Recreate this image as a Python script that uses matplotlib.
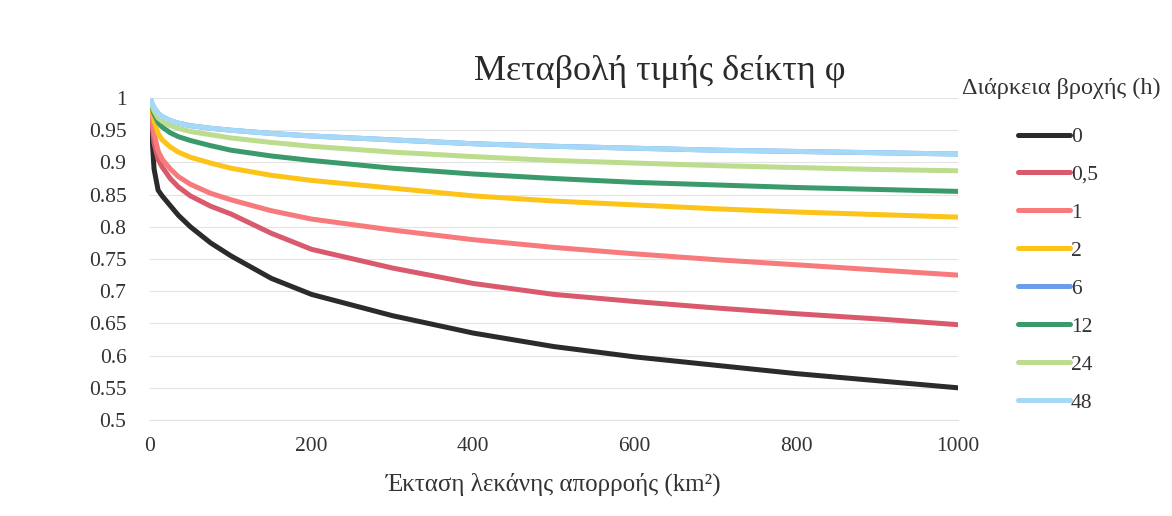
import matplotlib
matplotlib.use("Agg")
import matplotlib.pyplot as plt

plt.rcParams["font.family"] = ["Liberation Serif", "DejaVu Serif"]

# catchment area (km2)
area = [0, 2, 5, 10, 15, 25, 35, 50, 75, 100, 150, 200, 300, 400, 500, 600, 700, 800, 900, 1000]

# index phi per rain duration
durations = ["0", "0,5", "1", "2", "6", "12", "24", "48"]
phi_0 = [1.0, 0.95, 0.89, 0.857, 0.848, 0.833, 0.818, 0.80, 0.775, 0.755, 0.72, 0.695, 0.662, 0.635, 0.614, 0.598, 0.585, 0.572, 0.561, 0.550]
phi_05 = [1.0, 0.965, 0.93, 0.905, 0.893, 0.875, 0.862, 0.848, 0.832, 0.82, 0.79, 0.765, 0.736, 0.712, 0.695, 0.684, 0.674, 0.665, 0.657, 0.648]
phi_1 = [1.0, 0.975, 0.945, 0.918, 0.905, 0.89, 0.878, 0.866, 0.852, 0.842, 0.825, 0.812, 0.795, 0.78, 0.768, 0.758, 0.749, 0.741, 0.733, 0.725]
phi_2 = [1.0, 0.985, 0.965, 0.945, 0.935, 0.924, 0.916, 0.908, 0.899, 0.891, 0.88, 0.872, 0.86, 0.848, 0.84, 0.834, 0.828, 0.823, 0.819, 0.815]
phi_6 = [1.0, 0.993, 0.985, 0.976, 0.971, 0.965, 0.961, 0.957, 0.953, 0.95, 0.945, 0.941, 0.935, 0.929, 0.925, 0.922, 0.919, 0.917, 0.915, 0.913]
phi_12 = [1.0, 0.988, 0.975, 0.962, 0.955, 0.946, 0.94, 0.934, 0.926, 0.919, 0.91, 0.903, 0.891, 0.882, 0.875, 0.869, 0.865, 0.861, 0.858, 0.855]
phi_24 = [1.0, 0.99, 0.98, 0.969, 0.964, 0.957, 0.953, 0.948, 0.943, 0.938, 0.931, 0.925, 0.916, 0.909, 0.903, 0.899, 0.895, 0.892, 0.889, 0.887]
phi_48 = [1.0, 0.993, 0.985, 0.976, 0.971, 0.965, 0.961, 0.957, 0.953, 0.95, 0.945, 0.941, 0.935, 0.929, 0.925, 0.922, 0.919, 0.917, 0.915, 0.913]

series = [phi_0, phi_05, phi_1, phi_2, phi_6, phi_12, phi_24, phi_48]
colors = ["#2b2b2b", "#d95a6c", "#f77a7c", "#fcc418", "#6a9ee8", "#3a9a6c", "#bcdc8e", "#a6d8f8"]

fig = plt.figure(figsize=(11.72, 5.16), dpi=100)
ax = fig.add_axes([150 / 1172, 1 - 420 / 516, 808 / 1172, 322 / 516])

for dur, vals, col in zip(durations, series, colors):
    ax.plot(area, vals, color=col, lw=3.6, label=dur,
            solid_capstyle="round", solid_joinstyle="round")

ax.set_xlim(0, 1000)
ax.set_ylim(0.5, 1.0)
ax.set_xticks([0, 200, 400, 600, 800, 1000])
ax.set_yticks([0.5, 0.55, 0.6, 0.65, 0.7, 0.75, 0.8, 0.85, 0.9, 0.95, 1.0])
ax.set_yticklabels(["0.5", "0.55", "0.6", "0.65", "0.7", "0.75", "0.8", "0.85", "0.9", "0.95", "1"])
ax.tick_params(axis="y", length=0, labelsize=15.5, colors="#333333", pad=17)
ax.tick_params(axis="x", length=0, labelsize=15.5, colors="#333333", pad=12)
ax.grid(axis="y", color="#e4e4e4", lw=0.8)
ax.set_axisbelow(True)
for s in ["top", "right", "left"]:
    ax.spines[s].set_visible(False)
ax.spines["bottom"].set_color("#e0e0e0")

ax.set_xlabel("Έκταση λεκάνης απορροής (km²)", fontsize=18, color="#333333", labelpad=12)
fig.text(660 / 1172, 1 - 72 / 516, "Μεταβολή τιμής δείκτη φ", fontsize=26, color="#2a2a2a",
         ha="center", va="center")
fig.text(962 / 1172, 1 - 88 / 516, "Διάρκεια βροχής (h)", fontsize=17.5, color="#333333",
         ha="left", va="center")

leg = ax.legend(loc="upper left", bbox_to_anchor=(1018 / 1172, 1 - 127 / 516),
                bbox_transform=fig.transFigure, frameon=False, fontsize=15.5,
                handlelength=2.4, handletextpad=0.05, labelspacing=0.83,
                borderpad=0, borderaxespad=0)
for t in leg.get_texts():
    t.set_color("#333333")
for h in leg.legend_handles:
    h.set_solid_capstyle("round")

fig.savefig("out.png", dpi=100)
